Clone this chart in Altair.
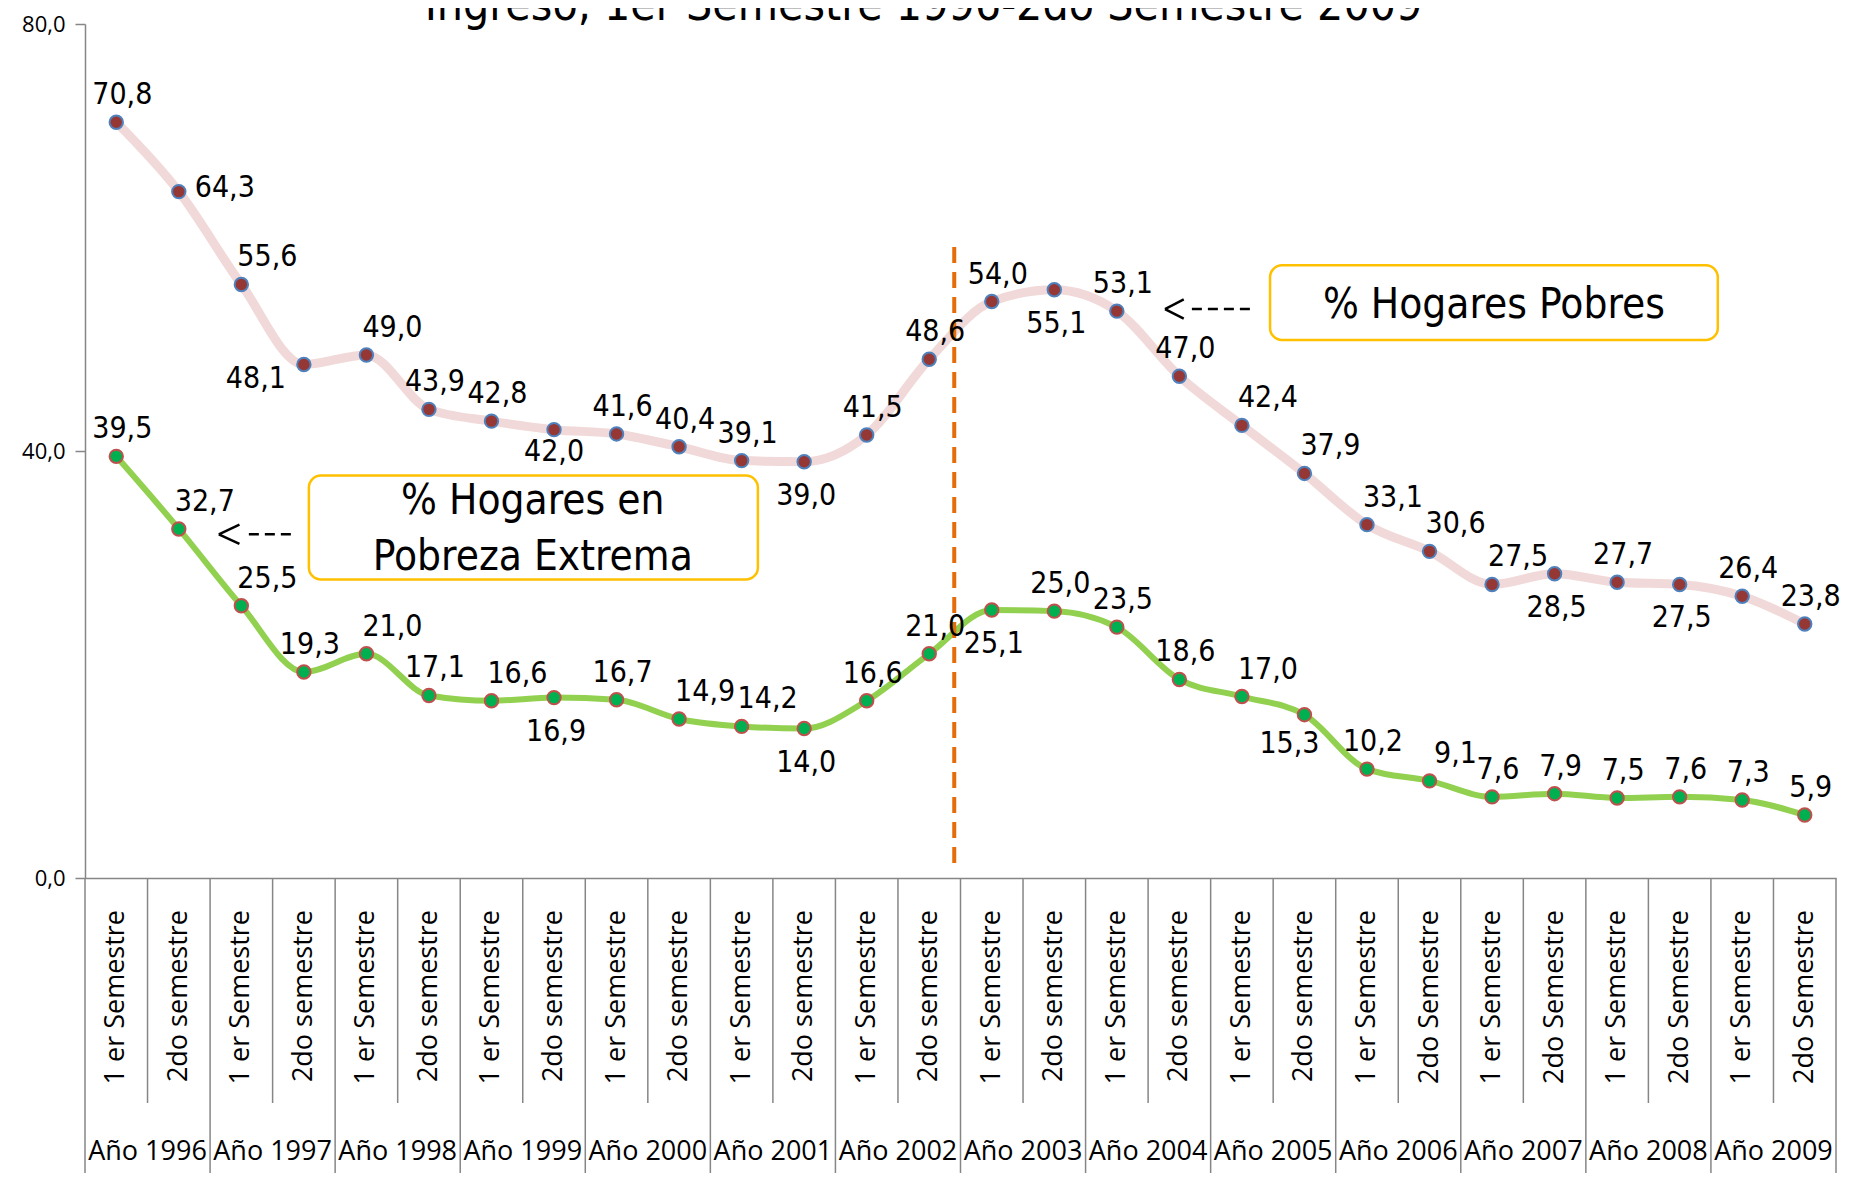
import altair as alt
import pandas as pd

# ---------------- data ----------------
year_labels = ["Año 1996", "Año 1997", "Año 1998", "Año 1999", "Año 2000", "Año 2001", "Año 2002",
               "Año 2003", "Año 2004", "Año 2005", "Año 2006", "Año 2007", "Año 2008", "Año 2009"]
semester_labels = [
    "1 er Semestre", "2do semestre", "1 er Semestre", "2do semestre", "1 er Semestre", "2do semestre",
    "1 er Semestre", "2do semestre", "1 er Semestre", "2do semestre", "1 er Semestre", "2do semestre",
    "1 er Semestre", "2do semestre", "1 er Semestre", "2do semestre", "1 er Semestre", "2do semestre",
    "1 er Semestre", "2do semestre", "1 er Semestre", "2do Semestre", "1 er Semestre", "2do Semestre",
    "1 er Semestre", "2do Semestre", "1 er Semestre", "2do Semestre"]
pobres = [70.8, 64.3, 55.6, 48.1, 49.0, 43.9, 42.8, 42.0, 41.6, 40.4, 39.1, 39.0, 41.5, 48.6,
          54.0, 55.1, 53.1, 47.0, 42.4, 37.9, 33.1, 30.6, 27.5, 28.5, 27.7, 27.5, 26.4, 23.8]
extrema = [39.5, 32.7, 25.5, 19.3, 21.0, 17.1, 16.6, 16.9, 16.7, 14.9, 14.2, 14.0, 16.6, 21.0,
           25.1, 25.0, 23.5, 18.6, 17.0, 15.3, 10.2, 9.1, 7.6, 7.9, 7.5, 7.6, 7.3, 5.9]
# label placement codes (a=above, ar=above-right, b=below, bn=just below, r=right,
# bl=below-left, bs=below, slightly left)
pobres_pos = ["a", "r", "ar", "bl", "ar", "a", "a", "bn", "a", "a", "a", "b", "a", "a",
              "a", "b", "a", "a", "ar", "ar", "ar", "ar", "ar", "b", "a", "b", "a", "a"]
extrema_pos = ["a", "ar", "ar", "a", "ar", "a", "ar", "b", "a", "ar", "ar", "b", "a", "a",
               "b", "a", "a", "a", "ar", "bs", "a", "ar", "a", "a", "a", "a", "a", "a"]

title_text = "Ingreso, 1er Semestre 1996-2do Semestre 2009"
box_texts = ["% Hogares Pobres", "% Hogares en", "Pobreza Extrema"]

# ---------------- tables ----------------
n = len(semester_labels)
rows = []
for name, vals, poss in [("pobres", pobres, pobres_pos), ("extrema", extrema, extrema_pos)]:
    for i, v in enumerate(vals):
        rows.append({"idx": i, "serie": name, "valor": v,
                     "txt": f"{v:.1f}".replace(".", ","), "pos": poss[i]})
df = pd.DataFrame(rows)
df_sem = pd.DataFrame({"idx": list(range(n)), "lab": semester_labels})
df_year = pd.DataFrame({"xc": [2 * j + 0.5 for j in range(len(year_labels))], "lab": year_labels})
df_sep = pd.DataFrame({"xb": [k - 0.5 for k in range(n + 1)],
                       "year_edge": [k % 2 == 0 for k in range(n + 1)]})

# annotations (x in category-index units, y in data units)
df_vline = pd.DataFrame({"x": [13.40], "y": [59.1], "y2": [1.3]})
df_boxes = pd.DataFrame({"x": [18.45, 3.08], "x2": [25.61, 10.26],
                         "y": [57.4, 37.7], "y2": [50.4, 27.97]})
df_btxt = pd.DataFrame({"x": [22.03, 6.66, 6.66], "y": [53.7, 35.3, 30.1], "t": box_texts})
df_dash = pd.DataFrame({"x": [17.20, 2.12], "x2": [18.18, 2.86], "y": [53.3, 32.2]})
df_arm = pd.DataFrame({"x": [16.77, 16.77, 1.64, 1.64], "x2": [17.07, 17.07, 1.97, 1.97],
                       "y": [53.3, 53.3, 32.2, 32.2], "y2": [54.2, 52.4, 33.1, 31.3]})

NARROW = "DejaVu Sans Condensed, Roboto Condensed, Roboto, sans-serif"
LABELF = "Open Sans"
GRAY = "#868686"
H = 854

xscale = alt.Scale(domain=[-0.5, n - 0.5], nice=False, zero=False)
yscale = alt.Scale(domain=[0, 80], nice=False)
x_axis = alt.Axis(title=None, labels=False, ticks=False, grid=False, domainColor=GRAY,
                  domainWidth=1.5)
y_axis = alt.Axis(title=None, values=[0, 40, 80], grid=False, tickSize=10, tickColor=GRAY,
                  tickWidth=1.5, domainColor=GRAY, domainWidth=1.5, labelFont=LABELF,
                  labelFontSize=22, labelColor="black", labelPadding=10,
                  labelExpr="format(datum.value, '.0f') + ',0'")


def X(f="idx"):
    return alt.X(f"{f}:Q", scale=xscale, axis=x_axis)


def Y(f="valor"):
    return alt.Y(f"{f}:Q", scale=yscale, axis=y_axis)


base = alt.Chart(df)

line_p = base.transform_filter(alt.datum.serie == "pobres").mark_line(
    interpolate="monotone", color="#F0D9D8", strokeWidth=9).encode(x=X(), y=Y())
line_e = base.transform_filter(alt.datum.serie == "extrema").mark_line(
    interpolate="monotone", color="#92D050", strokeWidth=6).encode(x=X(), y=Y())
pts_p = base.transform_filter(alt.datum.serie == "pobres").mark_circle(
    size=180, color="#953735", stroke="#4F81BD", strokeWidth=2, opacity=1).encode(x=X(), y=Y())
pts_e = base.transform_filter(alt.datum.serie == "extrema").mark_circle(
    size=180, color="#00B050", stroke="#C0504D", strokeWidth=2, opacity=1).encode(x=X(), y=Y())

offsets = {"a": (6, -27), "ar": (26, -27), "b": (2, 34), "bn": (0, 22), "r": (46, -4),
           "bl": (-48, 14), "bs": (-15, 29)}
text_layers = []
for code, (dx, dy) in offsets.items():
    text_layers.append(
        base.transform_filter(alt.datum.pos == code).mark_text(
            font=NARROW, fontSize=30, color="black", dx=dx, dy=dy).encode(
            x=X(), y=Y(), text="txt:N"))

# category axis drawn from the category lists
sem_text = alt.Chart(df_sem).mark_text(
    font=LABELF, fontSize=27, color="black", angle=270, align="right",
    baseline="middle").encode(x=X("idx"), y=alt.value(H + 32), text="lab:N")
year_text = alt.Chart(df_year).mark_text(
    font=LABELF, fontSize=27, color="black", baseline="middle").encode(
    x=X("xc"), y=alt.value(H + 274), text="lab:N")
sep_short = alt.Chart(df_sep).mark_rule(color=GRAY, strokeWidth=1.5).encode(
    x=X("xb"), y=alt.value(H), y2=alt.value(H + 225))
sep_long = alt.Chart(df_sep).transform_filter(alt.datum.year_edge).mark_rule(
    color=GRAY, strokeWidth=1.5).encode(x=X("xb"), y=alt.value(H + 225), y2=alt.value(H + 306))

vline = alt.Chart(df_vline).mark_rule(color="#E46C0A", strokeWidth=4,
                                      strokeDash=[16, 9]).encode(
    x=X("x"), y=Y("y"), y2="y2:Q")
boxes = alt.Chart(df_boxes).mark_rect(cornerRadius=12, fill="white", stroke="#FFC000",
                                      strokeWidth=2.5).encode(
    x=X("x"), x2="x2:Q", y=Y("y"), y2="y2:Q")
btxt = alt.Chart(df_btxt).mark_text(font=NARROW, fontSize=42, color="black").encode(
    x=X("x"), y=Y("y"), text="t:N")
dash = alt.Chart(df_dash).mark_rule(color="black", strokeWidth=2.5, strokeDash=[10, 6]).encode(
    x=X("x"), x2="x2:Q", y=Y("y"))
arms = alt.Chart(df_arm).mark_rule(color="black", strokeWidth=2.5).encode(
    x=X("x"), x2="x2:Q", y=Y("y"), y2="y2:Q")

chart = alt.layer(line_p, line_e, vline, pts_p, pts_e, *text_layers,
                  boxes, btxt, dash, arms, sep_short, sep_long, sem_text, year_text).properties(
    width=1751, height=H,
    autosize=alt.AutoSizeParams(type="none"),
    padding={"left": 77, "top": 16, "right": 4, "bottom": 295},
    title=alt.TitleParams(title_text, anchor="middle", font=NARROW, fontSize=46,
                          fontWeight="normal", color="black", offset=0, dx=-37, dy=17),
    background="white",
).configure_view(stroke=None)

chart.save("out.html", embed_options={"renderer": "svg", "actions": False})
